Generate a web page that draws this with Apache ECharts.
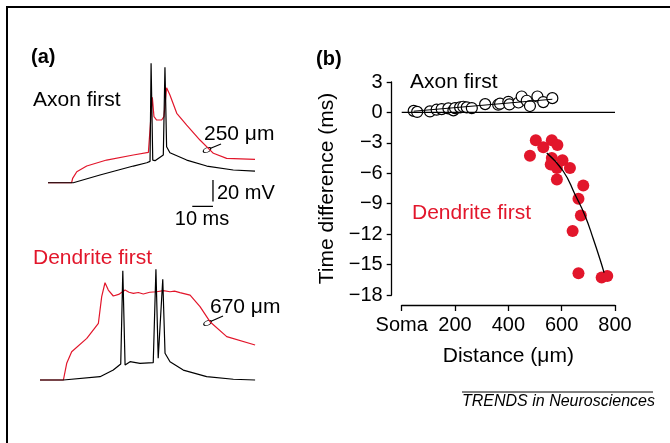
<!DOCTYPE html>
<html>
<head>
<meta charset="utf-8">
<script src="https://cdn.jsdelivr.net/npm/echarts@6/dist/echarts.min.js"></script>
<style>
  html, body { margin: 0; padding: 0; background: #fff; }
  #chart { width: 670px; height: 443px; }
</style>
</head>
<body>
<div id="chart"></div>
<script>
// ---- (a) voltage traces: [time ms, mV above rest] ----
const axonSomaTrace = [
  [0, 0], [12.2, 0], [25.1, 7.2], [41.2, 15.6], [47.7, 18.7], [49.3, 20],
  [49.8, 111.6], [50.6, 21.2], [51.7, 20.6], [55.7, 25.9], [56.5, 107.9],
  [57.3, 33.6], [58.9, 28], [67, 21.2], [76.7, 15.6], [89.5, 11.9], [100, 10.9]
]
const axonDendTrace = [
  [0, 0], [11.4, 0], [11.9, 4.1], [13.9, 10.3], [18.7, 15.6], [28.3, 21.2],
  [41.2, 25.9], [48.5, 28.4], [50.4, 79.8], [51.2, 61.7], [52.5, 58.6],
  [54.9, 58.6], [56, 61.7], [57.3, 88.8], [58.9, 82], [62.2, 64.9], [67, 53.9],
  [73.4, 39.9], [79.9, 27.5], [86.3, 22.8], [100, 21.9]
]
const dendSomaTrace = [
  [0, 0], [11.3, 0], [29, 3.1], [35.4, 9.3], [39, 15], [40, 102], [41.1, 14],
  [43.5, 17.1], [48.3, 15.6], [54.7, 16.2], [56, 103.5], [57.1, 20.3],
  [59.3, 94.1], [60.4, 25], [62.8, 17.1], [69.2, 9.3], [80.5, 3.1],
  [93.4, 0.7], [103.9, 0]
]
const dendDendTrace = [
  [0, 0], [11.3, 0], [12.9, 15.6], [15.3, 26.4], [22.6, 38.9], [28.2, 53],
  [29.8, 77.9], [31.4, 90.9], [33, 84.1], [35.4, 78.5], [38, 80], [41.1, 84.1],
  [43, 82], [45.1, 81], [47.5, 81.8], [49.9, 80.4], [53, 82], [56.4, 82.5],
  [59.6, 83.5], [62.8, 82.5], [65, 83], [67.6, 81.6], [72.5, 79.4], [77.3, 68.5],
  [82.1, 54.5], [90.2, 40.5], [103.9, 32.7]
]
// scale bar: 10 ms / 20 mV
const scaleBarMs = 10
const scaleBarMv = 20

// ---- (b) time difference vs distance ----
const axonDist = [45, 58, 106, 131, 150, 175, 194, 200, 219, 231, 244, 263, 313, 362, 369, 400, 404, 438, 450, 469, 481, 509, 531, 565]
const axonDiff = [0.15, 0.05, 0.1, 0.27, 0.33, 0.4, 0.2, 0.43, 0.5, 0.56, 0.5, 0.43, 0.82, 0.76, 0.86, 1.05, 0.79, 0.98, 1.57, 1.15, 0.63, 1.57, 1.02, 1.41]
const axonFitX = [45, 565]
const axonFitY = [0.12, 1.3]
const dendDist = [481, 503, 531, 563, 584, 563, 559, 603, 582, 631, 582, 681, 663, 672, 641, 663, 750, 771]
const dendDiff = [-4.26, -2.75, -3.44, -2.75, -3.2, -4.49, -5.14, -4.72, -5.47, -5.47, -6.62, -7.2, -8.52, -10.16, -11.7, -15.86, -16.28, -16.12]
const dendFitX = [544, 606, 650, 688, 719, 744, 759]
const dendFitY = [-4.0, -5.8, -8.09, -10.2, -12.5, -14.5, -15.8]
const xTicks = [0, 200, 400, 600, 800]

const RED = '#e2162b'
const FONT = '"Liberation Sans", Arial, sans-serif'

const zip = (xs, ys) => xs.map((x, i) => [x, ys[i]])
const fmtMinus = v => (v < 0 ? '\u2212' + Math.abs(v) : String(v))

function traceSeries(data, color, grid) {
  return {
    type: 'line', xAxisIndex: grid, yAxisIndex: grid, data,
    symbol: 'none', clip: false, silent: true,
    lineStyle: { color, width: 1.2 }
  }
}

function label(text, x, y, size, opts = {}) {
  return {
    type: 'text', x, y, silent: true,
    style: Object.assign({
      text, fill: '#000', textVerticalAlign: 'middle',
      font: `${size}px ${FONT}`
    }, opts)
  }
}

function electrode(cx, cy, x2, y2) {
  return [
    { type: 'circle', x: cx, y: cy, rotation: 0.45, scaleY: 0.55, silent: true,
      shape: { cx: 0, cy: 0, r: 4 }, style: { fill: 'none', stroke: '#000', lineWidth: 1.3 } },
    { type: 'line', silent: true, shape: { x1: cx + 3, y1: cy - 1.5, x2, y2 },
      style: { stroke: '#000', lineWidth: 1.2 } }
  ]
}

const chart = echarts.init(document.getElementById('chart'))

const hiddenAxis = (gridIndex, min, max) => ({ gridIndex, type: 'value', min, max, show: false })

chart.setOption({
  animation: false,
  textStyle: { fontFamily: FONT },
  grid: [
    { left: 48, top: 54.3, width: 207, height: 155.2, outerBoundsMode: 'none' },
    { left: 40, top: 251.6, width: 215.3, height: 128.4, outerBoundsMode: 'none' },
    { left: 401.7, top: 82, right: 55, bottom: 148, outerBoundsMode: 'none' }
  ],
  xAxis: [
    hiddenAxis(0, 0, 100),
    hiddenAxis(1, 0, 104),
    {
      gridIndex: 2, type: 'value', min: 0, max: 800, interval: 200, offset: 10,
      axisLine: { show: true, onZero: false, lineStyle: { color: '#000', width: 1.3 } },
      axisTick: { show: true, length: 6, lineStyle: { color: '#000', width: 1.3 } },
      axisLabel: { color: '#000', fontSize: 20, margin: 10, formatter: v => (v === 0 ? 'Soma' : v) },
      splitLine: { show: false },
      name: 'Distance (\u03bcm)', nameLocation: 'middle', nameGap: 41,
      nameTextStyle: { color: '#000', fontSize: 21 }
    }
  ],
  yAxis: [
    hiddenAxis(0, -25, 120),
    hiddenAxis(1, 0, 120),
    {
      gridIndex: 2, type: 'value', min: -18, max: 3, interval: 3, offset: 10,
      axisLine: { show: true, onZero: false, lineStyle: { color: '#000', width: 1.3 } },
      axisTick: { show: true, length: 5, lineStyle: { color: '#000', width: 1.3 } },
      axisLabel: { color: '#000', fontSize: 20, margin: 9, formatter: fmtMinus },
      splitLine: { show: false },
      name: 'Time difference (ms)', nameLocation: 'middle', nameGap: 54,
      nameTextStyle: { color: '#000', fontSize: 21 }
    }
  ],
  series: [
    traceSeries(axonDendTrace, RED, 0),
    traceSeries(axonSomaTrace, '#000', 0),
    traceSeries(dendDendTrace, RED, 1),
    traceSeries(dendSomaTrace, '#000', 1),
    // scale bar
    {
      type: 'line', xAxisIndex: 0, yAxisIndex: 0, symbol: 'none', clip: false, silent: true,
      lineStyle: { color: '#000', width: 1.3 },
      data: [[79.7, 2.5], [79.7, 2.5 - scaleBarMv]]
    },
    {
      type: 'line', xAxisIndex: 0, yAxisIndex: 0, symbol: 'none', clip: false, silent: true,
      lineStyle: { color: '#000', width: 1.3 },
      data: [[79.7 - scaleBarMs, -22], [79.7, -22]]
    },
    // zero line
    {
      type: 'line', xAxisIndex: 2, yAxisIndex: 2, symbol: 'none', silent: true,
      lineStyle: { color: '#000', width: 1.2 },
      data: [[xTicks[0], 0], [xTicks[xTicks.length - 1], 0]]
    },
    {
      type: 'line', xAxisIndex: 2, yAxisIndex: 2, symbol: 'none', silent: true,
      lineStyle: { color: '#000', width: 1 },
      data: zip(axonFitX, axonFitY)
    },
    {
      type: 'scatter', xAxisIndex: 2, yAxisIndex: 2, symbolSize: 11,
      itemStyle: { color: '#fff', borderColor: '#000', borderWidth: 1.2, opacity: 1 },
      data: zip(axonDist, axonDiff)
    },
    {
      type: 'scatter', xAxisIndex: 2, yAxisIndex: 2, symbolSize: 12,
      itemStyle: { color: RED, opacity: 1 },
      data: zip(dendDist, dendDiff)
    },
    {
      type: 'line', xAxisIndex: 2, yAxisIndex: 2, symbol: 'none', smooth: true, silent: true,
      lineStyle: { color: '#000', width: 1.3 },
      data: zip(dendFitX, dendFitY), z: 3
    }
  ],
  graphic: [
    { type: 'polyline', silent: true, shape: { points: [[7, 443], [7, 7], [670, 7]] },
      style: { stroke: '#000', lineWidth: 2, fill: 'none' } },
    label('(a)', 31, 57, 20, { font: `bold 20px ${FONT}` }),
    label('Axon first', 33, 100, 21),
    label('250 \u03bcm', 204, 134, 21),
    label('20 mV', 217, 193, 20),
    label('10 ms', 202, 219, 20, { textAlign: 'center' }),
    label('Dendrite first', 33, 258, 21, { fill: RED }),
    label('670 \u03bcm', 210, 307, 21),
    ...electrode(207, 150, 221, 144),
    ...electrode(207.5, 323, 223, 316),
    label('(b)', 316, 59, 20, { font: `bold 20px ${FONT}` }),
    label('Axon first', 410, 82, 21),
    label('Dendrite first', 412, 213, 21, { fill: RED }),
    { type: 'line', silent: true, shape: { x1: 462, y1: 392, x2: 653, y2: 392 },
      style: { stroke: '#000', lineWidth: 1 } },
    label('TRENDS in Neurosciences', 462, 402, 16, { font: `italic 16px ${FONT}` })
  ]
})

window.addEventListener('resize', () => chart.resize())
</script>
</body>
</html>
